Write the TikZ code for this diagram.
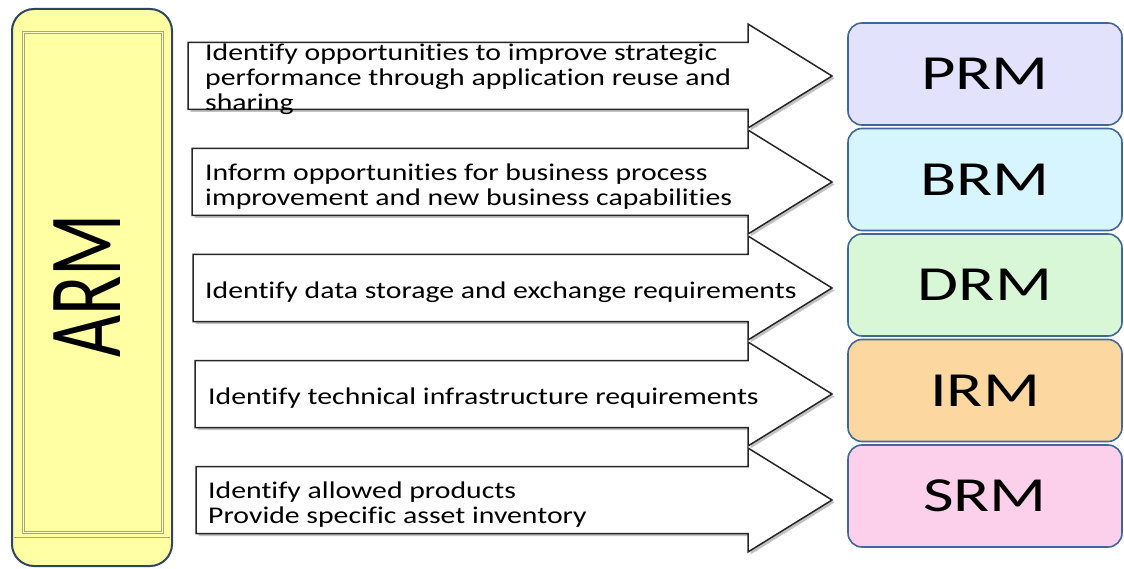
\documentclass[tikz,border=0pt]{standalone}
\usepackage{fontspec}
\usepackage{tikz}
\usetikzlibrary{shadows}
\newfontfamily\arrowfont[FakeStretch=1.24,Ligatures=NoCommon]{Carlito}
\newfontfamily\modelfont[FakeStretch=1.36]{Carlito}
\newfontfamily\armfont[FakeStretch=0.70]{Carlito}
\definecolor{armfill}{HTML}{FFFFA3}
\definecolor{armedge}{HTML}{2F4560}
\definecolor{armbevel}{HTML}{A8A870}
\definecolor{modeledge}{HTML}{41679A}
\definecolor{prmfill}{HTML}{E2E2FD}
\definecolor{brmfill}{HTML}{D6F5FE}
\definecolor{drmfill}{HTML}{D8F7D6}
\definecolor{irmfill}{HTML}{FCD8A0}
\definecolor{srmfill}{HTML}{FCD0EA}

\begin{document}
\begin{tikzpicture}[x=1pt,y=-1pt,
	modelbox/.style={draw=modeledge,line width=1.6pt,rounded corners=14pt,minimum width=274pt,minimum height=102pt,inner sep=0pt,font=\modelfont\fontsize{49}{49}\selectfont},
	blockarrow/.style={fill=white,draw=black!85,line width=1.5pt,drop shadow={shadow xshift=2.5pt,shadow yshift=-2.5pt,fill=black!40,opacity=.6}},
	arrowtext/.style={anchor=west,align=left,inner sep=0pt,font=\arrowfont\fontsize{24}{25}\selectfont}]
	\useasboundingbox (0,0) rectangle (1124,569);
	\node[draw=armedge,fill=armfill,line width=2pt,rounded corners=22pt,minimum width=160pt,minimum height=557pt] (arm) at (92,287.5) {};
	\draw[armbevel,line width=1pt,double=armfill!60!white,double distance=1pt] (23,33) rectangle (162,532);
	\draw[armbevel,line width=1pt] (14,537) -- (170,537);
	\node[rotate=90,inner sep=0pt,font=\armfont\fontsize{104}{104}\selectfont] (armlabel) at (87,286) {ARM};
	\foreach \c/\l in {76/188,182/192,288/193,394/195,500/196}
		\draw[blockarrow] ({\l},{\c-33.5}) -- (748,{\c-33.5}) -- (748,{\c-52}) -- (832,{\c}) -- (748,{\c+52}) -- (748,{\c+33.5}) -- ({\l},{\c+33.5}) -- cycle;
	\node[arrowtext] (perf) at (205,79) {Identify opportunities to improve strategic\\performance through application reuse and\\sharing};
	\node[arrowtext] (process) at (205,187) {Inform opportunities for business process\\improvement and new business capabilities};
	\node[arrowtext] (data) at (205,292) {Identify data storage and exchange requirements};
	\node[arrowtext] (infra) at (208,398) {Identify technical infrastructure requirements};
	\node[arrowtext] (products) at (208,505) {Identify allowed products\\Provide specific asset inventory};
	\node[modelbox,fill=prmfill] (prm) at (985,74) {PRM};
	\node[modelbox,fill=brmfill] (brm) at (985,179.5) {BRM};
	\node[modelbox,fill=drmfill] (drm) at (985,285) {DRM};
	\node[modelbox,fill=irmfill] (irm) at (985,390.5) {IRM};
	\node[modelbox,fill=srmfill] (srm) at (985,496) {SRM};
\end{tikzpicture}
\end{document}
